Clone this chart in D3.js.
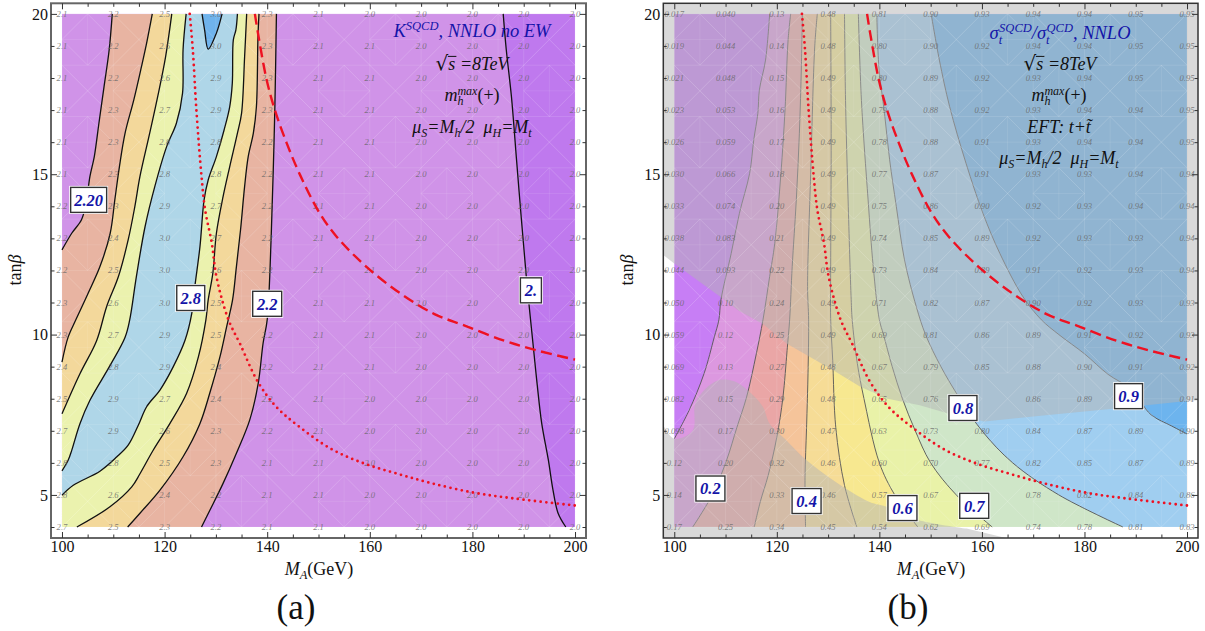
<!DOCTYPE html>
<html><head><meta charset="utf-8">
<style>html,body{margin:0;padding:0;background:#fff}svg{display:block}
text{font-family:"Liberation Serif",serif}</style>
<script src="https://cdn.jsdelivr.net/npm/d3@7/dist/d3.min.js"></script></head><body>
<svg id="chart" width="1205" height="631"></svg>
<script>
// ---------- grid values ----------
const maGrid=[100,110,120,130,140,150,160,170,180,190,200];
const tanbGrid=[20,19,18,17,16,15,14,13,12,11,10,9,8,7,6,5,4];
const kValues=[
[2.1,2.2,2.5,3.0,2.3,2.1,2.0,2.0,2.0,2.0,2.0],
[2.1,2.2,2.6,3.0,2.3,2.1,2.1,2.0,2.0,2.0,2.0],
[2.1,2.2,2.6,2.9,2.3,2.1,2.1,2.0,2.0,2.0,2.0],
[2.1,2.3,2.7,2.9,2.3,2.1,2.1,2.0,2.0,2.0,2.0],
[2.1,2.3,2.8,2.8,2.2,2.1,2.1,2.0,2.0,2.0,2.0],
[2.1,2.3,2.8,2.8,2.2,2.1,2.1,2.0,2.0,2.0,2.0],
[2.2,2.3,2.9,2.7,2.2,2.1,2.1,2.0,2.0,2.0,2.0],
[2.2,2.4,3.0,2.7,2.2,2.1,2.1,2.0,2.0,2.0,2.0],
[2.2,2.5,3.0,2.6,2.2,2.1,2.1,2.0,2.0,2.0,2.0],
[2.3,2.6,3.0,2.5,2.2,2.1,2.1,2.0,2.0,2.0,2.0],
[2.3,2.7,2.9,2.5,2.2,2.1,2.1,2.0,2.0,2.0,2.0],
[2.4,2.8,2.9,2.4,2.2,2.1,2.1,2.0,2.0,2.0,2.0],
[2.5,2.9,2.7,2.4,2.2,2.1,2.0,2.0,2.0,2.0,2.0],
[2.7,2.9,2.6,2.3,2.2,2.1,2.0,2.0,2.0,2.0,2.0],
[2.8,2.8,2.5,2.3,2.1,2.1,2.0,2.0,2.0,2.0,2.0],
[2.8,2.6,2.4,2.2,2.1,2.1,2.0,2.0,2.0,2.0,2.0],
[2.7,2.5,2.3,2.2,2.1,2.1,2.0,2.0,2.0,2.0,2.0]];
const ratioValues=[
[.017,.040,.13,.48,.81,.90,.93,.94,.94,.95,.95],
[.019,.044,.14,.48,.80,.90,.92,.94,.94,.95,.95],
[.021,.048,.15,.49,.80,.89,.92,.93,.94,.95,.95],
[.023,.053,.16,.49,.79,.88,.92,.93,.94,.94,.95],
[.026,.059,.17,.49,.78,.88,.91,.93,.94,.94,.95],
[.030,.066,.18,.49,.77,.87,.91,.93,.93,.94,.94],
[.033,.074,.20,.49,.75,.86,.90,.92,.93,.94,.94],
[.038,.083,.21,.49,.74,.85,.89,.92,.93,.93,.94],
[.044,.093,.22,.49,.73,.84,.89,.91,.92,.93,.94],
[.050,.10,.24,.49,.71,.82,.87,.90,.92,.93,.93],
[.059,.12,.25,.49,.69,.81,.86,.89,.91,.92,.93],
[.069,.13,.27,.48,.67,.79,.85,.88,.90,.91,.92],
[.082,.15,.29,.48,.65,.76,.83,.86,.89,.91,.91],
[.098,.17,.30,.47,.63,.73,.80,.84,.87,.89,.90],
[.12,.20,.32,.46,.60,.70,.77,.82,.85,.87,.89],
[.14,.22,.33,.46,.57,.67,.73,.78,.82,.84,.86],
[.17,.25,.34,.45,.54,.62,.69,.74,.78,.81,.83]];

// ---------- contours of panel (a): [MA, tanβ] ----------
const k22Left=[[109.8,20],[109.2,18.88],[108.2,17.73],[107.2,16.59],[106.3,15.55],[105.45,14.93],[104.7,14.1],[103.8,13.58],[101.9,13.16],[100,12.64]];
const k24Left=[[117.6,20],[116.5,19.09],[115.5,18.36],[114,17.32],[112.3,16.28],[111.2,15.24],[110.3,14.2],[109.4,13.16],[107.4,12.12],[105.1,11.29],[102.7,10.46],[101.2,9.92],[100,9.14]];
const k26Left=[[121.4,20],[120.2,18.67],[118.8,17.53],[117.1,16.28],[115.2,14.93],[114.2,13.99],[112.9,12.95],[111,11.81],[108.7,10.87],[106.75,9.81],[103.5,8.78],[100,7.53]];
const k28Left=[[124.2,20],[123.6,18.88],[123.5,17.53],[122.3,16.59],[120.4,15.86],[118.1,14.62],[116.2,13.37],[114.5,11.81],[113.2,10.46],[112.3,9.92],[109.35,9.03],[105.45,7.95],[103.5,7.22],[101.9,6.39],[101.2,6.08],[100,5.75]];
const k28Right=[[134.2,20],[133.9,19.5],[133.4,19.19],[133.2,17.84],[132.7,17.11],[131.6,16.38],[130.1,15.55],[128.5,14.82],[127.7,14.2],[126.9,12.75],[125.9,11.5],[125.3,10.66],[124,9.83],[121.7,9],[119.1,8.27],[116.5,7.75],[114.9,7.18],[112.9,6.55],[110.65,6.18],[107.4,5.74],[102.2,5.3],[100,4.99]];
const k26Right=[[136,20],[135.6,18.67],[135,16.9],[134.2,16.28],[132.7,15.24],[131.4,14.3],[130.1,13.16],[129.4,11.91],[128.5,11.08],[128.05,10.46],[126.6,9.31],[124.3,8.17],[121.05,7.23],[117.8,6.4],[115.2,5.66],[113.6,5.25],[109.35,4.63],[102.9,4]];
const k24Right=[[138.4,20],[138.2,19.29],[137.9,17.11],[137.3,16.28],[136.3,15.55],[135.6,14.62],[134.8,13.26],[134,12.12],[133.25,11.08],[132.1,10.25],[130.8,9.31],[128.8,8.17],[126.9,7.23],[123.6,6.19],[119.1,5.15],[115.2,4.43],[112.8,4]];
const k22Right=[[141.8,20],[141.5,17.11],[141.2,15.24],[140.8,13.16],[140,10.46],[139.2,9.73],[138.25,8.48],[136.6,7.34],[134,6.3],[131.4,5.36],[128.85,4.53],[127.2,4]];
const k30Cap=[[127.3,20],[127.8,19.5],[128.5,18.9],[130.1,19.4],[131.2,20]];
const k20Line=[[186,20],[186.6,18.88],[187.6,17.43],[188.6,15.45],[189.5,13.68],[190.5,11.81],[191.8,9.73],[192.6,8.48],[193.5,7.24],[194.8,6.09],[195.7,5.16],[196.7,4.43],[198.2,4]];

// ---------- contours of panel (b) ----------
const r01=[[118.6,20],[117.8,18.56],[116.6,17.63],[116.3,16.9],[115.5,16.07],[114.7,15.03],[112.7,13.78],[111.1,12.53],[109.1,11.08],[108.7,10.46],[107.8,9.92],[105.8,8.78],[102.9,7.64],[100,6.75]];
const r02=[[122.7,20],[122.2,19.19],[121.6,17.0],[120.8,15.03],[119.6,12.85],[118.6,11.81],[117.3,10.46],[116,9.4],[114.1,8.05],[112.2,7.1],[110.2,6.08],[107.4,5.0],[103.6,4]];
const r03=[[125,20],[124.8,18.4],[124.4,16.28],[123.8,14.2],[123,12.12],[122.5,10.46],[122,9.5],[121.2,8.05],[120,6.8],[118.3,5.6],[116.8,4.8],[115.6,4]];
const r04=[[127.9,20],[127.4,19],[126.6,15],[126,11.5],[126.2,10.46],[126.1,8.9],[125.8,7.1],[125.5,5.55],[125.6,4]];
const r05=[[130.5,20],[130.6,16],[130.5,12],[130.5,10.5],[130.9,9.2],[131.5,7.1],[133.2,5.3],[135.6,4]];
const r06=[[133.2,20],[133.4,17.3],[133.9,14.2],[134.5,11.1],[134.7,10.46],[135.7,9.1],[137,8],[140,6],[143,5],[147.5,4]];
const r07=[[135.9,20],[136.5,17.3],[137.8,14.2],[138.8,12.12],[140,10.46],[140.8,10],[142.5,9],[144.5,8],[147,7],[150,6],[155,5],[162,4]];
const r08=[[139.5,20],[139.9,18.36],[141,16.9],[142,15.45],[143.3,14],[144.9,12.33],[147.2,10.87],[149,10],[152,9],[155.7,8],[160,7],[166,6],[175,5],[187.5,4]];
const r09=[[150.1,20],[151.7,18.56],[153.7,17.11],[156.9,15.34],[160.2,13.78],[163.5,12.53],[168,11.18],[171.6,10.46],[175,10],[180,9.4],[184.6,8.76],[189,8.3],[193,7.5],[197,7.15],[200,6.9]];

// ---------- shaded exclusion regions of panel (b) ----------
const excludedUpper=[[97.86,12.48],[100,12.22],[108.9,11.19],[112.5,10.75],[117.3,10.33],[121.9,9.72],[131,8.89],[136.2,8.38],[141.4,8.01],[147.9,7.8],[153.6,7.53],[160.5,7.29],[171.9,7.48],[185.5,7.69],[200,7.93],[202.14,7.95],[202.14,20.33],[97.86,20.33]];
const excludedLower=[[97.86,7.17],[100,6.75],[103.6,7.01],[104.2,7.89],[108.2,8.55],[111.5,8.55],[114.7,8.21],[117.3,7.74],[118.6,7.22],[121.9,6.7],[125.8,6.08],[131,5.46],[138.1,4.78],[141.4,4.63],[146.5,4.26],[157,3.95],[164.7,3.66],[97.86,3.66]];

// ---------- red curves ----------
const dashedCurve=[[137.6,20],[138.2,19.4],[139.9,17.94],[141.5,17],[143.8,15.97],[146.4,14.98],[150.1,13.82],[153.5,13.06],[159.3,12.12],[165.9,11.29],[172.6,10.64],[178.5,10.28],[186.2,9.81],[192.7,9.5],[200,9.22]];
const dottedCurve=[[124.9,20],[125.5,18.88],[126.2,17],[127.2,14.93],[127.9,13.89],[129.2,12.85],[130.1,11.81],[132.4,10.48],[134.7,9.71],[138.2,8.52],[141.8,7.74],[145.9,7.17],[152.4,6.44],[158.9,5.98],[165.4,5.66],[171.9,5.37],[180.3,5.07],[188.1,4.89],[200,4.67]];

// ---------- contour labels ----------
const kLabels=[{t:"2.20",x:105.2,y:14.2,w:36},{t:"2.8",x:125.1,y:11.14,w:28},{t:"2.2",x:140,y:10.96,w:29},{t:"2.",x:191.4,y:11.38,w:21}];
const ratioLabels=[{t:"0.2",x:107.05,y:5.2,w:29},{t:"0.4",x:125.8,y:4.81,w:29},{t:"0.6",x:144.5,y:4.59,w:29},{t:"0.7",x:158.5,y:4.66,w:29},{t:"0.8",x:156.3,y:7.71,w:28},{t:"0.9",x:188.6,y:8.08,w:28}];
const labelBoxHeight=25;

const xDomain=[97.86,202.14], yDomain=[3.657,20.33];
const xTicks=[100,120,140,160,180,200], yTicks=[5,10,15,20];
const svg=d3.select("#chart");

function panel(left,right){
  const g=svg.append("g");
  const x=d3.scaleLinear().domain(xDomain).range([left,right]);
  const y=d3.scaleLinear().domain(yDomain).range([538,3.3]);
  const curve=d3.line().x(d=>x(d[0])).y(d=>y(d[1])).curve(d3.curveCatmullRom.alpha(.5));
  const poly=d3.line().x(d=>x(d[0])).y(d=>y(d[1]));
  return {g,x,y,curve,poly};
}
const join=(...parts)=>parts.map((s,i)=>i?s.replace(/^M/,"L"):s).join("")+"Z";

function mesh(P){
  const m=P.g.append("g").attr("stroke","#fff").attr("fill","none").attr("pointer-events","none");
  const xs=d3.range(100,200.01,10), ys=d3.range(4,20.01,1.6);
  const seg=(a,b,c,d,o)=>m.append("line").attr("x1",P.x(a)).attr("y1",P.y(b)).attr("x2",P.x(c)).attr("y2",P.y(d)).attr("stroke-opacity",o).attr("stroke-width",.9);
  xs.forEach(v=>seg(v,4,v,20,.13)); ys.forEach(v=>seg(100,v,200,v,.13));
  xs.slice(0,-1).forEach((v,i)=>ys.slice(0,-1).forEach((w,j)=>{
    const v2=xs[i+1],w2=ys[j+1],mx=(v+v2)/2,my=(w+w2)/2;
    if((i+j)%2==0){seg(v,w,v2,w2,.2);seg(v,w2,v2,w,.2);}
    else{seg(mx,w,v2,my,.18);seg(v2,my,mx,w2,.18);seg(mx,w2,v,my,.18);seg(v,my,mx,w,.18);seg(mx,w,mx,w2,.1);seg(v,my,v2,my,.1);}
  }));
}
function gridNumbers(P,rows,fmt,boxes){
  const t=P.g.append("g").attr("font-size",8.6).attr("font-style","italic").attr("fill","#666").attr("fill-opacity",.8).attr("text-anchor","middle");
  tanbGrid.forEach((b,r)=>maGrid.forEach((a,c)=>{
    const px=P.x(a),py=P.y(b);
    // numbers that sit under a contour-label box are hidden by it in the reference
    const hidden=boxes.some(d=>Math.abs(P.x(d.x)-px)<d.w/2+6&&Math.abs(P.y(d.y)-py)<labelBoxHeight/2+4);
    if(!hidden)t.append("text").attr("x",px).attr("y",py+3).text(fmt(rows[r][c]));
  }));
}
function frame(P,color,width){
  const {x,y,g}=P;
  g.append("rect").attr("x",x.range()[0]).attr("y",y.range()[1]).attr("width",x.range()[1]-x.range()[0]).attr("height",y.range()[0]-y.range()[1]).attr("fill","none").attr("stroke",color).attr("stroke-width",width);
  const xMinor=d3.range(100,201,5).filter(v=>!xTicks.includes(v));
  const yMinor=d3.range(4,21,1).filter(v=>!yTicks.includes(v));
  const style=s=>{s.select(".domain").remove();s.selectAll("line").attr("stroke","#333");s.selectAll("text").attr("font-family","Liberation Serif").attr("font-size",16).attr("fill","#111");};
  const at=(gen,tx,ty)=>g.append("g").attr("transform",`translate(${tx},${ty})`).call(gen).call(style);
  const bottom=y.range()[0], top=y.range()[1], l=x.range()[0], r=x.range()[1];
  at(d3.axisBottom(x).tickValues(xTicks).tickFormat(d3.format("d")).tickSizeInner(-6).tickSizeOuter(0).tickPadding(3),0,bottom);
  at(d3.axisBottom(x).tickValues(xMinor).tickFormat("").tickSizeInner(-3.5).tickSizeOuter(0),0,bottom);
  at(d3.axisTop(x).tickValues(xTicks).tickFormat("").tickSizeInner(-6).tickSizeOuter(0),0,top);
  at(d3.axisTop(x).tickValues(xMinor).tickFormat("").tickSizeInner(-3.5).tickSizeOuter(0),0,top);
  at(d3.axisLeft(y).tickValues(yTicks).tickFormat(d3.format("d")).tickSizeInner(-6).tickSizeOuter(0).tickPadding(3),l,0);
  at(d3.axisLeft(y).tickValues(yMinor).tickFormat("").tickSizeInner(-3.5).tickSizeOuter(0),l,0);
  at(d3.axisRight(y).tickValues(yTicks).tickFormat("").tickSizeInner(-6).tickSizeOuter(0),r,0);
  at(d3.axisRight(y).tickValues(yMinor).tickFormat("").tickSizeInner(-3.5).tickSizeOuter(0),r,0);
}
function rich(parent,cx,cy,segs,size,fill,anchor="middle"){
  const t=parent.append("text").attr("x",cx).attr("y",cy).attr("text-anchor",anchor).attr("font-size",size).attr("fill",fill);
  let cur=0;
  segs.forEach(q=>{
    const b=q.b||0;
    const sp=t.append("tspan").text(q.s).attr("dy",(b-cur)).attr("font-size",q.z||size).attr("font-style",q.i===false?"normal":"italic");
    if(q.dx)sp.attr("dx",q.dx);
    if(q.f)sp.attr("font-family",q.f);
    cur=b;
  });
  return t;
}
function labelsOn(P,list){
  list.forEach(d=>{
    const cx=P.x(d.x),cy=P.y(d.y),w=d.w,h=labelBoxHeight;
    P.g.append("rect").attr("x",cx-w/2-1.5).attr("y",cy-h/2-1.5).attr("width",w+3).attr("height",h+3).attr("fill","#fff");
    P.g.append("rect").attr("x",cx-w/2).attr("y",cy-h/2).attr("width",w).attr("height",h).attr("fill","#fff").attr("stroke","#333").attr("stroke-width",1.4);
    P.g.append("text").attr("x",cx).attr("y",cy+5.8).attr("text-anchor","middle").attr("font-size",16.5).attr("font-weight","bold").attr("font-style","italic").attr("fill","#1414a8").text(d.t);
  });
}
function redCurves(P){
  P.g.append("path").attr("d",P.curve(dashedCurve)).attr("fill","none").attr("stroke","#ee1122").attr("stroke-width",2.4).attr("stroke-dasharray","11 5.5");
  P.g.append("path").attr("d",P.curve(dottedCurve)).attr("fill","none").attr("stroke","#ee1122").attr("stroke-width",2.8).attr("stroke-linecap","round").attr("stroke-dasharray","0 5.7");
}
function sqrtLine(parent,cx,cy,size){
  const t=rich(parent,cx,cy,[{s:"√",i:false,f:"DejaVu Sans",z:size+2},{s:"s"},{s:" =8TeV"}],size,"#111");
  const n=t.node(), a=n.getStartPositionOfChar(1), b=n.getEndPositionOfChar(1);
  parent.append("line").attr("x1",a.x-.5).attr("x2",b.x+1).attr("y1",cy-13.6).attr("y2",cy-13.6).attr("stroke","#111").attr("stroke-width",1);
}
const mhSegs=[{s:"m"},{s:"h",b:4,z:12},{s:"max",b:-6,z:12,dx:-6},{s:"(+)",i:false,b:0}];
const muSegs=[{s:"μ"},{s:"S",b:4,z:12},{s:"=M",b:0},{s:"h",b:4,z:12},{s:"/2\u00a0\u00a0μ",b:0},{s:"H",b:4,z:12},{s:"=M",b:0},{s:"t",b:4,z:12}];

// ================= panel (a) =================
const A=panel(51,586);
(function(){
  const {g,x,y,curve,poly}=A;
  g.append("rect").attr("x",x(100)).attr("y",y(20)).attr("width",x(200)-x(100)).attr("height",y(4)-y(20)).attr("fill","#d093e8");
  const dark=join(curve(k20Line),poly([[198.2,4],[200,4],[200,20],[186,20]]));
  g.append("path").attr("d",dark).attr("fill","#bf79ee");
  const band=(L,R,c)=>g.append("path").attr("fill",c).attr("d",join(curve(L),poly([L[L.length-1],[100,4],R[R.length-1]]),curve(R.slice().reverse())));
  band(k22Left,k22Right,"#e8b4a2");
  band(k24Left,k24Right,"#f3d89b");
  band(k26Left,k26Right,"#ebf2ae");
  g.append("path").attr("fill","#afd6e8").attr("d",join(curve(k28Left),curve(k28Right.slice().reverse())));
  g.append("path").attr("fill","#6fb3ec").attr("d",curve(k30Cap)+"Z");
  mesh(A);
  [k22Left,k24Left,k26Left,k28Left,k28Right,k26Right,k24Right,k22Right,k30Cap,k20Line].forEach(L=>
    g.append("path").attr("d",curve(L)).attr("fill","none").attr("stroke","#111").attr("stroke-width",1.3));
  gridNumbers(A,kValues,v=>v.toFixed(1),kLabels);
  redCurves(A);
  rich(g,472,37,[{s:"K"},{s:"SQCD",b:-7,z:12.5},{s:", NNLO no EW",b:0}],18.5,"#1414a8");
  sqrtLine(g,472,70,18);
  rich(g,472,101,mhSegs,18,"#111");
  rich(g,472,133,muSegs,18,"#111");
  labelsOn(A,kLabels);
  frame(A,"#666",2);
})();

// ================= panel (b) =================
const B=panel(663.3,1198);
(function(){
  const {g,x,y,curve,poly}=B;
  g.append("rect").attr("x",x(100)).attr("y",y(20)).attr("width",x(200)-x(100)).attr("height",y(4)-y(20)).attr("fill","#c77ef5");
  const levels=[[r01,"#dc98e0"],[r02,"#eaa6a6"],[r03,"#f5c49a"],[r04,"#f6dc96"],[r05,"#f7e890"],[r06,"#e9f2a8"],[r07,"#cfe6c8"],[r08,"#a0cef0"],[r09,"#6db4ee"]];
  levels.forEach(([L,c])=>{
    const e=L[L.length-1], tail=[e];
    if(e[0]<200){ if(e[1]>4) tail.push([e[0],4]); tail.push([200,4]); }
    tail.push([200,20]);
    g.append("path").attr("fill",c).attr("d",join(curve(L),poly(tail)));
  });
  levels.forEach(([L])=>g.append("path").attr("d",curve(L)).attr("fill","none").attr("stroke","#555").attr("stroke-width",.9));
  g.append("path").attr("d",poly(excludedUpper)+"Z").attr("fill","#b3b3b3").attr("fill-opacity",.5);
  g.append("path").attr("d",curve(excludedLower.slice(0,16))+poly([[164.7,3.66],[97.86,3.66]]).replace(/^M/,"L")+"Z").attr("fill","#b3b3b3").attr("fill-opacity",.5);
  mesh(B);
  gridNumbers(B,ratioValues,v=>v<.1?v.toFixed(3):v.toFixed(2),ratioLabels);
  redCurves(B);
  rich(g,1060,39,[{s:"σ"},{s:"t",b:5,z:12.5},{s:"SQCD",b:-7,z:12.5,dx:-3},{s:"/σ",b:0},{s:"t",b:5,z:12.5},{s:"QCD",b:-7,z:12.5,dx:-3},{s:", NNLO",b:0}],18.5,"#1414a8");
  sqrtLine(g,1060,70,18);
  rich(g,1059,101,mhSegs,18,"#111");
  rich(g,1059,133,[{s:"EFT: t+t\u0303"}],18,"#111");
  rich(g,1059,164,muSegs,18,"#111");
  labelsOn(B,ratioLabels);
  frame(B,"#333",1.5);
})();

// ================= axis titles & panel tags =================
[[319,21,296,"(a)"],[931,633,908,"(b)"]].forEach(([tx,yx,cx,tag])=>{
  rich(svg,tx,575,[{s:"M"},{s:"A",b:4,z:12.5},{s:"(GeV)",i:false,b:0}],18,"#111");
  svg.append("text").attr("transform",`translate(${yx},270) rotate(-90)`).attr("text-anchor","middle").attr("font-size",18).attr("fill","#111")
     .html('tan<tspan font-style="italic">β</tspan>');
  svg.append("text").attr("x",cx).attr("y",619).attr("text-anchor","middle").attr("font-size",35).attr("fill","#111").text(tag);
});
</script></body></html>
